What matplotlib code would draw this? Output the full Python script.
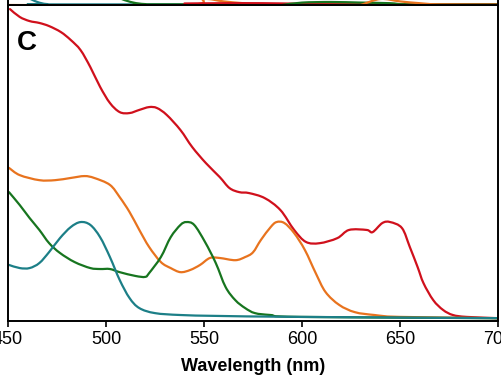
import matplotlib
matplotlib.use("Agg")
import matplotlib.pyplot as plt
from matplotlib.path import Path
from matplotlib.patches import PathPatch

plt.rcParams["font.family"] = ["Liberation Sans", "DejaVu Sans"]
plt.rcParams["xtick.major.size"] = 4
plt.rcParams["xtick.major.width"] = 1.2

# Panel C absorbance traces (wavelength in nm, relative absorbance)
wl_red = [451, 456, 461, 466, 471, 477, 482, 487, 492, 497, 502, 507, 512, 517, 522,
          526, 531, 538, 544, 551, 558, 563, 568, 573, 581, 589, 596, 602, 609, 618,
          624, 633, 636, 641, 645, 651, 655, 659, 662, 667, 672, 677, 684, 700]
abs_red = [0.987, 0.962, 0.949, 0.943, 0.933, 0.914, 0.889, 0.857, 0.803, 0.740, 0.689,
           0.660, 0.657, 0.667, 0.676, 0.673, 0.651, 0.603, 0.549, 0.498, 0.454, 0.419,
           0.406, 0.403, 0.387, 0.349, 0.286, 0.248, 0.244, 0.260, 0.286, 0.286, 0.279,
           0.308, 0.311, 0.292, 0.232, 0.168, 0.117, 0.063, 0.032, 0.016, 0.010, 0.006]

wl_orange = [450.5, 456, 466, 474, 482, 489, 494, 502, 507, 512, 517, 522, 528, 533, 538,
             543, 548, 553, 558, 566, 571, 575, 579, 584, 587, 591, 596, 601.5, 607, 612,
             619, 627, 637, 650, 700]
abs_orange = [0.483, 0.460, 0.444, 0.444, 0.451, 0.457, 0.451, 0.429, 0.390, 0.343, 0.286,
              0.232, 0.184, 0.165, 0.152, 0.159, 0.175, 0.197, 0.197, 0.190, 0.200, 0.215,
              0.254, 0.295, 0.311, 0.308, 0.276, 0.222, 0.149, 0.089, 0.048, 0.025, 0.016,
              0.010, 0.006]

wl_green = [450.5, 456, 461, 466, 471, 476.5, 484, 492, 497, 502, 507, 515, 520, 522, 528,
            533, 538, 541, 545, 550.5, 556, 561, 566, 571, 576, 584, 599, 700]
abs_green = [0.406, 0.365, 0.324, 0.286, 0.244, 0.213, 0.184, 0.165, 0.162, 0.162, 0.152,
             0.140, 0.137, 0.149, 0.200, 0.263, 0.302, 0.311, 0.302, 0.248, 0.181, 0.105,
             0.063, 0.038, 0.022, 0.016, 0.010, 0.006]

wl_teal = [450.5, 456, 461, 466, 471, 476.5, 482, 487, 492, 497, 502, 507, 512, 517, 525,
           538, 558, 599, 700]
abs_teal = [0.175, 0.165, 0.165, 0.181, 0.216, 0.260, 0.295, 0.311, 0.302, 0.263, 0.200,
            0.127, 0.070, 0.038, 0.022, 0.016, 0.013, 0.010, 0.006]

# tails of the panel above (only its baseline shows)
wl_up_teal = [450, 455, 460, 465, 470, 480, 700]
up_teal = [0.6, 0.45, 0.25, 0.1, 0.03, 0.02, 0.02]
wl_up_green = [495, 502, 508, 514, 520, 530, 700]
up_green = [0.6, 0.4, 0.2, 0.08, 0.03, 0.02, 0.02]
wl_up_orange = [450, 540, 550, 560, 570, 580, 700]
up_orange = [0.0, 0.0, 0.2, 0.12, 0.06, 0.02, 0.01]
wl_up_red = [540, 560, 580, 600, 620, 700]
up_red = [0.05, 0.06, 0.06, 0.04, 0.02, 0.01]
wl_up_green2 = [590, 600, 615, 630, 645, 655, 700]
up_green2 = [0.0, 0.08, 0.1, 0.08, 0.06, 0.02, 0.01]
wl_up_orange2 = [630, 640, 650, 660, 670, 700]
up_orange2 = [0.0, 0.2, 0.12, 0.06, 0.02, 0.01]

c_red = "#d0101c"
c_orange = "#e8731e"
c_green = "#17751f"
c_teal = "#1c7f87"


def smooth_line(ax, xs, ys, color, lw=1.6):
    # smoothed line through the points (Catmull-Rom drawn as bezier segments)
    verts = [(xs[0], ys[0])]
    codes = [Path.MOVETO]
    n = len(xs)
    for i in range(n - 1):
        x0, y0 = (xs[i - 1], ys[i - 1]) if i > 0 else (xs[i], ys[i])
        x1, y1 = xs[i], ys[i]
        x2, y2 = xs[i + 1], ys[i + 1]
        x3, y3 = (xs[i + 2], ys[i + 2]) if i + 2 < n else (x2, y2)
        c1 = (x1 + (x2 - x0) / 6.0, y1 + (y2 - y0) / 6.0)
        c2 = (x2 - (x3 - x1) / 6.0, y2 - (y3 - y1) / 6.0)
        verts += [c1, c2, (x2, y2)]
        codes += [Path.CURVE4] * 3
    ax.add_patch(PathPatch(Path(verts, codes), fill=False, edgecolor=color, lw=lw,
                           capstyle="round", joinstyle="round"))


W, H = 502, 380
fig = plt.figure(figsize=(W / 100, H / 100), dpi=100)

left, right = 8 / W, 498 / W
bottom, top = (H - 321) / H, (H - 5) / H

ax = fig.add_axes([left, bottom, right - left, top - bottom])
smooth_line(ax, wl_red, abs_red, c_red)
smooth_line(ax, wl_orange, abs_orange, c_orange)
smooth_line(ax, wl_green, abs_green, c_green)
smooth_line(ax, wl_teal, abs_teal, c_teal)
ax.set_xlim(450, 700)
ax.set_ylim(-0.003, 1.0)
ax.set_xticks([450, 500, 550, 600, 650, 700])
ax.set_yticks([])
ax.tick_params(axis="x", direction="out", labelsize=13, pad=3.5)
ax.set_xlabel("Wavelength (nm)", fontsize=13, fontweight="bold", labelpad=7)
for s in ax.spines.values():
    s.set_linewidth(1.4)
ax.text(0.018, 0.92, "C", transform=ax.transAxes, fontsize=20, fontweight="bold",
        va="top", ha="left")

# upper panel, only its bottom edge is inside the picture
ax2 = fig.add_axes([left, top, right - left, 30 / H])
smooth_line(ax2, wl_up_teal, up_teal, c_teal)
smooth_line(ax2, wl_up_green, up_green, c_green)
smooth_line(ax2, wl_up_orange, up_orange, c_orange)
smooth_line(ax2, wl_up_red, up_red, c_red)
smooth_line(ax2, wl_up_green2, up_green2, c_green)
smooth_line(ax2, wl_up_orange2, up_orange2, c_orange)
ax2.set_xlim(450, 700)
ax2.set_ylim(0, 1)
ax2.set_xticks([])
ax2.set_yticks([])
for s in ax2.spines.values():
    s.set_linewidth(1.4)

fig.savefig("out.png", dpi=100)
